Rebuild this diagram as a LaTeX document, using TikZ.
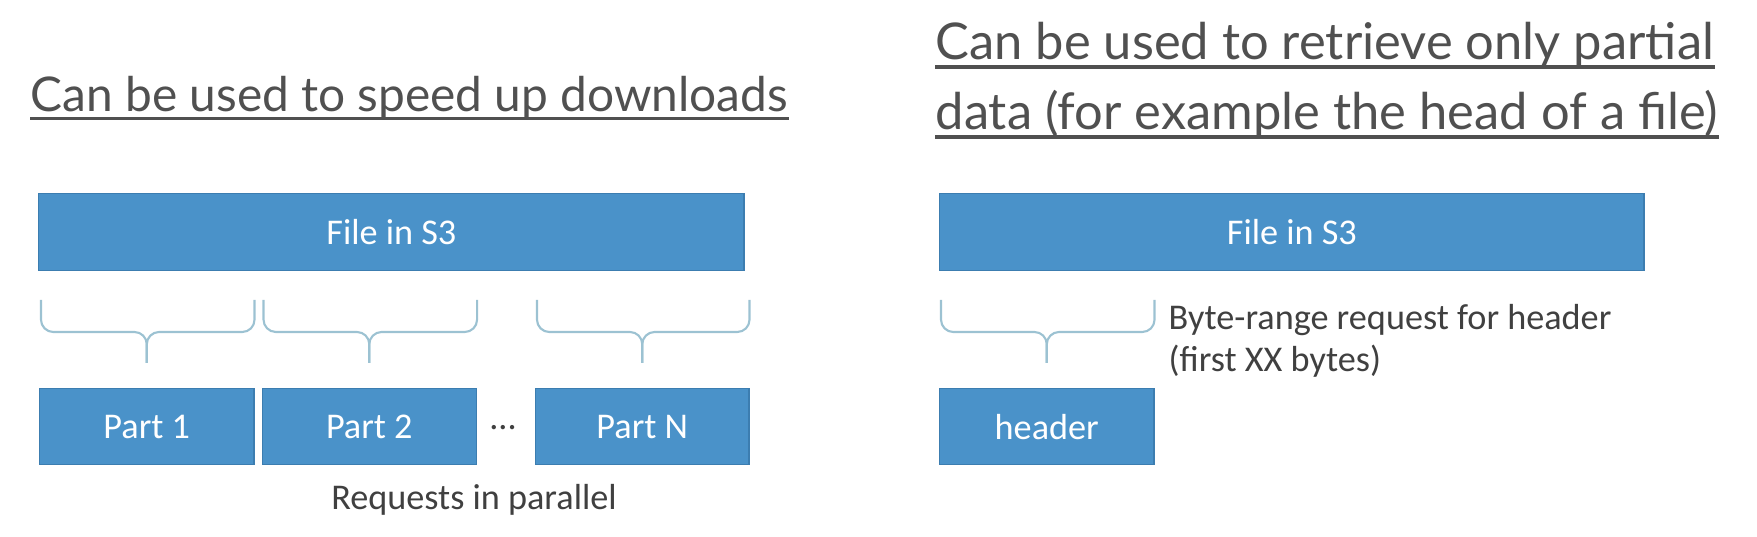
\documentclass[tikz,border=0pt]{standalone}
\usepackage{fontspec}
\setmainfont{Carlito}
\newfontfamily\headfont{Lato}
\usetikzlibrary{positioning,calc}
\definecolor{s3blue}{HTML}{4A92C9}
\definecolor{s3edge}{HTML}{3C7DB0}
\definecolor{bracegray}{HTML}{9CC2D2}
\definecolor{headgray}{HTML}{505050}
\definecolor{txtgray}{HTML}{404040}
% brace above a part box, tip pointing down at it
\newcommand\curly[1]{%
\draw[brc] ($(#1.north west)+(2,-88)$) -- ($(#1.north west)+(2,-56)$) -- ($(#1.north)+(0,-56)$) -- ($(#1.north)+(0,-25)$);
\draw[brc] ($(#1.north east)+(0,-88)$) -- ($(#1.north east)+(0,-56)$) -- ($(#1.north)+(0,-56)$) -- ($(#1.north)+(0,-25)$);}

\begin{document}
\begin{tikzpicture}[x=0.01cm, y=-0.01cm,
  blk/.style={draw=s3edge, fill=s3blue, text=white, font=\fontsize{10.3}{12}\selectfont, minimum height=0.76cm, inner sep=0pt},
  hd/.style={anchor=base west, text=headgray, font=\headfont\fontsize{14.4}{16}\selectfont, inner sep=0pt},
  brc/.style={draw=bracegray, line width=0.6pt, rounded corners=3.5pt},
  lbl/.style={text=txtgray, font=\fontsize{10.3}{12}\selectfont, inner sep=0pt},
  uline/.style={draw=headgray, line width=1.1pt}]
\useasboundingbox (0,0) rectangle (1757,537);

% left: parallel parts
\node[hd, font=\headfont\fontsize{13.6}{16}\selectfont] (hl) at (30,112) {Can be used to speed up downloads};
\draw[uline] ([yshift=-0.065cm]hl.base west) -- ([yshift=-0.065cm]hl.base east);
\node[blk, minimum width=7.05cm, minimum height=0.77cm, anchor=north west] (fl) at (38,193) {File in S3};
\node[blk, minimum width=2.14cm, anchor=north west] (p1) at (39,388) {Part 1};
\node[blk, minimum width=2.14cm, right=0.07cm of p1] (p2) {Part 2};
\node[blk, minimum width=2.13cm, anchor=north west] (pn) at (535,388) {Part N};
\node[lbl] (dots) at (503,428) {...};
\curly{p1} \curly{p2} \curly{pn}
\node[lbl] (rq) at (474,500) {Requests in parallel};

% right: header only
\node[hd] (hr1) at (935,60) {Can be used to retrieve only partial};
\draw[uline] ([yshift=-0.07cm]hr1.base west) -- ([yshift=-0.07cm]hr1.base east);
\node[hd] (hr2) at (935,130) {data (for example the head of a file)};
\draw[uline] ([yshift=-0.07cm]hr2.base west) -- ([yshift=-0.07cm]hr2.base east);
\node[blk, minimum width=7.04cm, minimum height=0.77cm, anchor=north west] (fr) at (939,193) {File in S3};
\node[blk, minimum width=2.14cm, anchor=north west] (hdr) at (939,388) {header};
\curly{hdr}
\node[lbl, anchor=north west, align=left, font=\fontsize{10.3}{11.9}\selectfont] (br) at (1168,304) {Byte-range request for header\\(first XX bytes)};
\end{tikzpicture}
\end{document}
